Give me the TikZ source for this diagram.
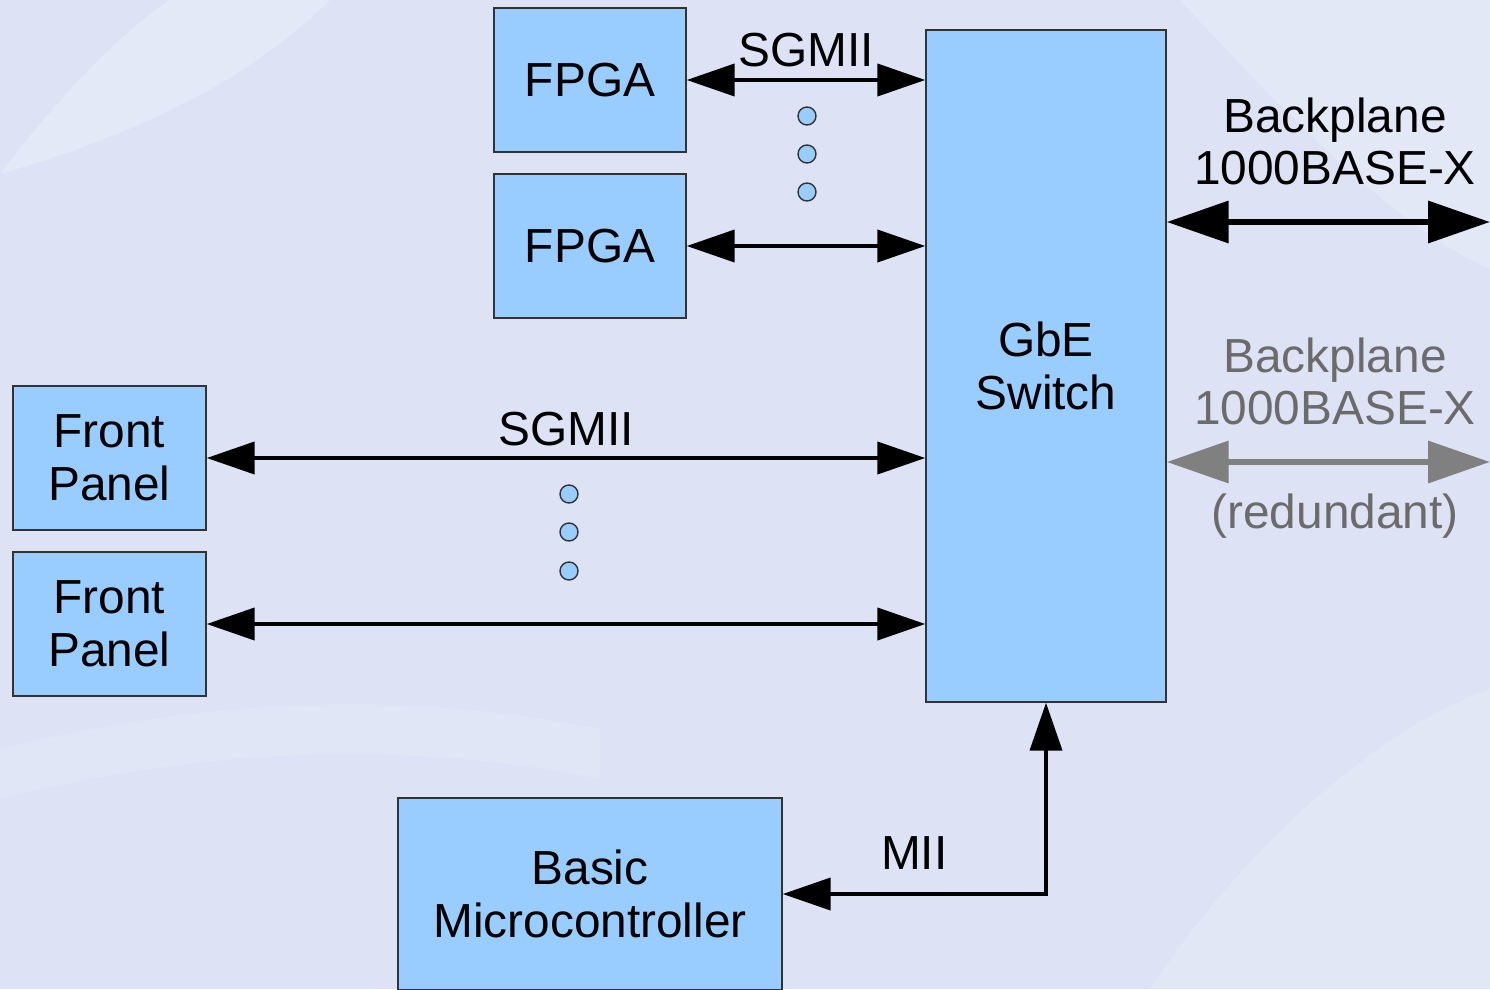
\documentclass[tikz,border=0pt]{standalone}
\usepackage{fontspec}
\setmainfont{Liberation Sans}
\usepackage{xcolor}
\usetikzlibrary{arrows.meta, positioning}
\definecolor{bgfill}{HTML}{DDE3F5}
\definecolor{boxblue}{HTML}{99CCFF}
\definecolor{linkgray}{HTML}{808080}
\definecolor{labgray}{HTML}{6B6B6B}

\tikzset{
  block/.style={draw=black!80, line width=0.4pt, fill=boxblue, align=center,
    inner sep=0pt, font=\fontsize{13.6}{15}\selectfont},
  lbl/.style={align=center, inner sep=1pt, font=\fontsize{13.6}{15}\selectfont},
  link/.style={line width=1.15pt, >={Triangle[length=4.8mm,width=3.2mm]}, <->},
  trunk/.style={line width=1.9pt, >={Triangle[length=6.2mm,width=4.1mm]}, <->},
  dotmark/.style={fill=boxblue, draw=black!80, line width=0.4pt},
}

\begin{document}
\begin{tikzpicture}[x=1cm, y=1cm]
\useasboundingbox (0,0) rectangle (14.9,9.89);
% backdrop with faint swooshes
\fill[bgfill] (0,0) rectangle (14.9,9.89);
\fill[white, opacity=0.22] (0,8.15) .. controls (0.8,9.2) and (1.4,9.7) .. (1.7,9.89)
  -- (3.3,9.89) .. controls (2.4,9.0) and (1.2,8.5) .. (0,8.15) -- cycle;
\fill[white, opacity=0.20] (11.8,9.89) .. controls (13.0,8.6) and (14.0,7.6) .. (14.9,7.2)
  -- (14.9,9.89) -- cycle;
\fill[white, opacity=0.12] (0,2.4) .. controls (2.0,2.9) and (4.0,3.0) .. (6.0,2.6)
  -- (6.0,2.1) .. controls (4.0,2.5) and (2.0,2.4) .. (0,1.9) -- cycle;
\fill[white, opacity=0.15] (11.5,0) .. controls (12.5,1.5) and (13.8,2.6) .. (14.9,3.0)
  -- (14.9,0) -- cycle;

% boxes
\node[block, minimum width=1.92cm, minimum height=1.44cm] (fpga1) at (5.90,9.09) {FPGA};
\node[block, minimum width=1.92cm, minimum height=1.44cm] (fpga2) at (5.90,7.43) {FPGA};
\node[block, minimum width=2.40cm, minimum height=6.72cm] (sw) at (10.46,6.23) {GbE\\Switch};
\node[block, minimum width=1.93cm, minimum height=1.44cm] (fp1) at (1.095,5.31) {Front\\Panel};
\node[block, minimum width=1.93cm, minimum height=1.44cm] (fp2) at (1.095,3.65) {Front\\Panel};
\node[block, minimum width=3.84cm, minimum height=1.92cm] (mcu) at (5.90,0.95) {Basic\\Microcontroller};

% FPGA links
\draw[link] (fpga1.east) -- node[lbl, above=0.07cm] {SGMII} (fpga1.east -| sw.west);
\draw[link] (fpga2.east) -- (fpga2.east -| sw.west);
\draw[dotmark] (8.07,8.73) circle (0.09);
\draw[dotmark] (8.07,8.35) circle (0.09);
\draw[dotmark] (8.07,7.97) circle (0.09);

% front panel links
\draw[link] (fp1.east) -- node[lbl, above=0.07cm] {SGMII} (fp1.east -| sw.west);
\draw[link] (fp2.east) -- (fp2.east -| sw.west);
\draw[dotmark] (5.69,4.95) circle (0.09);
\draw[dotmark] (5.69,4.57) circle (0.09);
\draw[dotmark] (5.69,4.18) circle (0.09);

% microcontroller
\draw[link] (sw.south) |- node[lbl, pos=0.75, above=0.19cm] {MII} (mcu.east);

% backplane
\coordinate (bp) at (14.9,7.67);
\coordinate (bpr) at (14.9,5.27);
\draw[trunk] (bp -| sw.east) -- (bp);
\node[lbl] (bplab) at (13.35,8.475) {Backplane\\1000BASE-X};
\draw[trunk, linkgray] (bpr -| sw.east) -- (bpr);
\node[lbl, text=labgray] (bprlab) at (13.35,6.075) {Backplane\\1000BASE-X};
\node[lbl, text=labgray] (redlab) at (13.35,4.73) {(redundant)};
\end{tikzpicture}
\end{document}
